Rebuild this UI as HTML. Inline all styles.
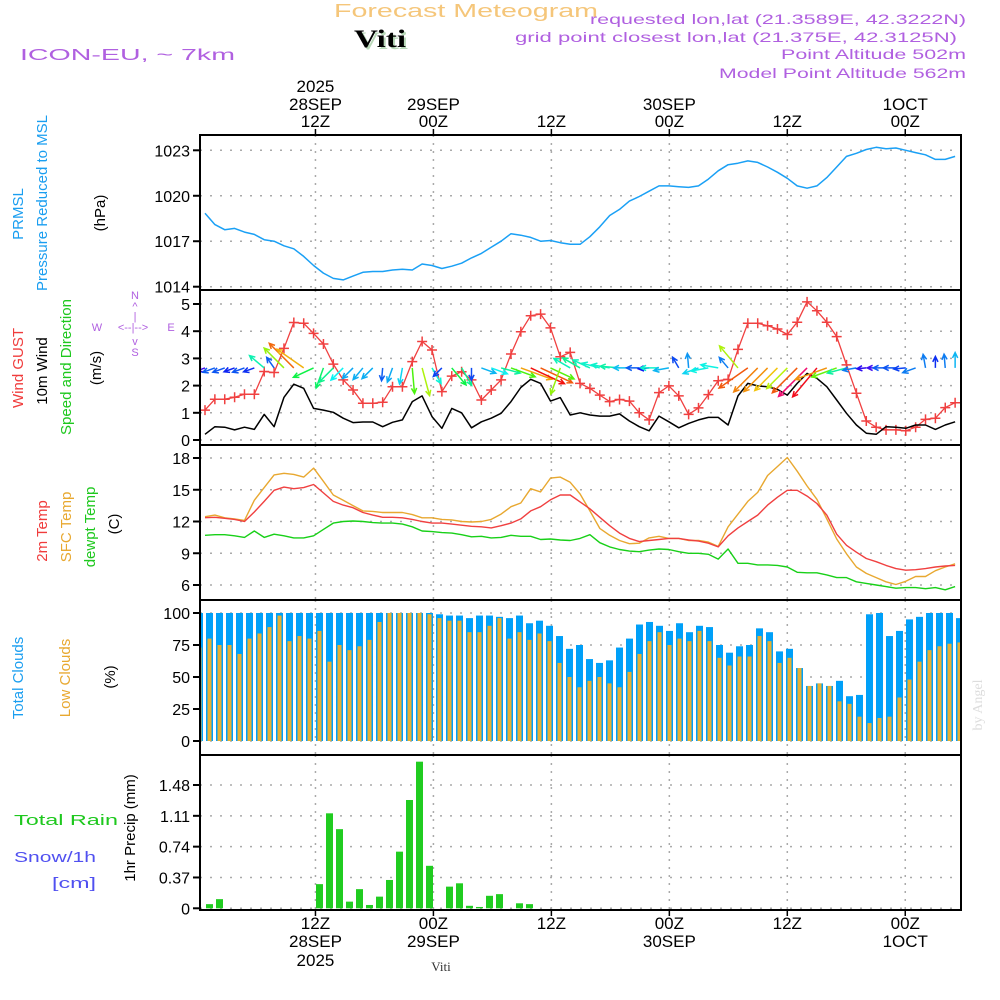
<!DOCTYPE html>
<html><head><meta charset="utf-8"><title>Meteogram Viti</title>
<style>
html,body{margin:0;padding:0;background:#fff;}
svg{display:block;font-family:"Liberation Sans",sans-serif;}
</style></head>
<body>
<svg id="chart" width="1000" height="1000" viewBox="0 0 1000 1000" xmlns="http://www.w3.org/2000/svg">
<g>
<text x="334" y="17" font-size="18" fill="#f5c67a" textLength="264" lengthAdjust="spacingAndGlyphs">Forecast Meteogram</text>
<text x="356" y="49" font-size="25" font-weight="bold" font-family="Liberation Serif, serif" fill="#b8d8b8" textLength="52" lengthAdjust="spacingAndGlyphs">Viti</text>
<text x="354" y="47" font-size="25" font-weight="bold" font-family="Liberation Serif, serif" fill="#000" textLength="52" lengthAdjust="spacingAndGlyphs">Viti</text>
<text x="20" y="60" font-size="16" fill="#b060e0" textLength="215" lengthAdjust="spacingAndGlyphs">ICON-EU, ~ 7km</text>
<text x="966" y="24" font-size="14" fill="#b060e0" text-anchor="end" textLength="376" lengthAdjust="spacingAndGlyphs">requested lon,lat (21.3589E, 42.3222N)</text>
<text x="957" y="42" font-size="14" fill="#b060e0" text-anchor="end" textLength="442" lengthAdjust="spacingAndGlyphs">grid point closest lon,lat (21.375E, 42.3125N)</text>
<text x="966" y="59" font-size="14" fill="#b060e0" text-anchor="end" textLength="185" lengthAdjust="spacingAndGlyphs">Point Altitude 502m</text>
<text x="966" y="78" font-size="14" fill="#b060e0" text-anchor="end" textLength="247" lengthAdjust="spacingAndGlyphs">Model Point Altitude 562m</text>
</g>
<g font-size="15">
<text transform="translate(23,214) rotate(-90)" text-anchor="middle" fill="#1a9ef0">PRMSL</text>
<text transform="translate(47,203) rotate(-90)" text-anchor="middle" fill="#1a9ef0">Pressure Reduced to MSL</text>
<text transform="translate(105,213) rotate(-90)" text-anchor="middle" fill="#000">(hPa)</text>
<text transform="translate(23,368) rotate(-90)" text-anchor="middle" fill="#f03c3c">Wind GUST</text>
<text transform="translate(47,371) rotate(-90)" text-anchor="middle" fill="#000">10m Wind</text>
<text transform="translate(71,367) rotate(-90)" text-anchor="middle" fill="#1ec81e">Speed and Direction</text>
<text transform="translate(101,368) rotate(-90)" text-anchor="middle" fill="#000">(m/s)</text>
<g fill="#b060e0" font-size="11">
<text x="135" y="299" text-anchor="middle">N</text>
<text x="135" y="310" text-anchor="middle">^</text>
<text x="135" y="320" text-anchor="middle">|</text>
<text x="97" y="331" text-anchor="middle">W</text>
<text x="133" y="331" text-anchor="middle">&lt;--|--&gt;</text>
<text x="171" y="331" text-anchor="middle">E</text>
<text x="135" y="345" text-anchor="middle">v</text>
<text x="135" y="356" text-anchor="middle">S</text>
</g>
<text transform="translate(47,531) rotate(-90)" text-anchor="middle" fill="#f03c3c">2m Temp</text>
<text transform="translate(71,527) rotate(-90)" text-anchor="middle" fill="#e8a830">SFC Temp</text>
<text transform="translate(95,527) rotate(-90)" text-anchor="middle" fill="#1ec81e">dewpt Temp</text>
<text transform="translate(119,524) rotate(-90)" text-anchor="middle" fill="#000">(C)</text>
<text transform="translate(23,678) rotate(-90)" text-anchor="middle" fill="#1a9ef0">Total Clouds</text>
<text transform="translate(70,678) rotate(-90)" text-anchor="middle" fill="#e8a830">Low Clouds</text>
<text transform="translate(115,677) rotate(-90)" text-anchor="middle" fill="#000">(%)</text>
<text transform="translate(135,828) rotate(-90)" text-anchor="middle" fill="#000">1hr Precip (mm)</text>
<text x="14" y="825" fill="#1ec81e" textLength="104" lengthAdjust="spacingAndGlyphs">Total   Rain</text>
<text x="14" y="862" fill="#5050f0" textLength="82" lengthAdjust="spacingAndGlyphs">Snow/1h</text>
<text x="52" y="888" fill="#5050f0" textLength="44" lengthAdjust="spacingAndGlyphs">[cm]</text>
<text transform="translate(982,705) rotate(-90)" text-anchor="middle" fill="#ddd" font-family="Liberation Serif, serif" font-size="14">by Angel</text>
</g>
<g id="plot"></g>
</svg>
<script>
// ---- data (hourly, 77 steps) ----
const timeTicks = [12, 24, 36, 48, 60, 72];
const topDay = ["28SEP", "29SEP", "", "30SEP", "", "1OCT"];
const topHour = ["12Z", "00Z", "12Z", "00Z", "12Z", "00Z"];
const pressure = [1018.84,1018.1,1017.76,1017.85,1017.6,1017.45,1017.1,1017.0,1016.7,1016.5,1016.0,1015.4,1014.9,1014.55,1014.45,1014.7,1014.95,1015.0,1015.0,1015.1,1015.15,1015.1,1015.5,1015.4,1015.2,1015.35,1015.55,1015.9,1016.2,1016.6,1017.0,1017.5,1017.4,1017.25,1017.0,1017.05,1016.9,1016.8,1016.8,1017.3,1017.95,1018.7,1019.1,1019.65,1019.95,1020.3,1020.65,1020.65,1020.6,1020.55,1020.65,1021.1,1021.65,1022.05,1022.15,1022.3,1022.2,1021.9,1021.55,1021.15,1020.65,1020.5,1020.65,1021.2,1021.9,1022.6,1022.8,1023.05,1023.2,1023.1,1023.15,1023.0,1022.85,1022.7,1022.4,1022.4,1022.6];
const pressTicks = [1014, 1017, 1020, 1023];
const gust = [1.1,1.5,1.5,1.57,1.68,1.68,2.52,2.48,3.37,4.32,4.29,3.92,3.53,2.79,2.21,1.84,1.35,1.35,1.39,1.96,1.96,2.88,3.62,3.31,1.78,2.35,2.51,2.21,1.47,1.84,2.21,3.16,3.98,4.57,4.63,4.12,3.06,3.22,2.08,1.90,1.65,1.41,1.49,1.43,1.00,0.74,1.74,1.99,1.62,0.94,1.18,1.67,2.18,2.23,3.33,4.29,4.29,4.20,4.08,3.88,4.33,5.08,4.75,4.33,3.80,2.76,1.72,0.70,0.47,0.37,0.37,0.34,0.47,0.76,0.80,1.19,1.37];
const wind = [0.21,0.49,0.47,0.37,0.47,0.39,0.94,0.49,1.57,2.05,1.90,1.16,1.10,1.02,0.80,0.64,0.66,0.66,0.49,0.65,0.74,1.41,1.62,0.86,0.43,1.16,1.00,0.45,0.67,0.80,0.98,1.41,1.93,2.23,2.08,1.43,1.56,0.92,1.00,0.92,0.88,0.88,0.96,0.70,0.49,0.34,0.88,0.67,0.45,0.61,0.74,0.83,0.83,0.55,1.62,2.08,1.99,1.96,1.86,1.65,2.08,2.45,2.27,1.96,1.47,0.98,0.55,0.25,0.21,0.49,0.47,0.43,0.55,0.55,0.39,0.55,0.67];
const windDir = [200,200,200,200,200,200,140,125,135,135,145,205,250,225,225,225,230,225,265,250,260,275,285,300,225,310,300,270,340,340,345,340,340,335,335,335,250,150,150,155,165,170,175,180,180,185,180,190,120,95,200,190,170,130,130,215,225,225,225,225,225,225,230,200,200,195,190,185,180,180,180,185,200,100,90,95,90];
const windTicks = [0, 1, 2, 3, 4, 5];
const temp2m = [12.36,12.4,12.3,12.2,12.0,12.9,13.9,14.95,15.25,15.1,15.2,15.5,14.7,13.9,13.55,13.3,12.85,12.6,12.4,12.4,12.35,12.2,12.0,11.85,11.85,11.75,11.65,11.55,11.5,11.4,11.6,11.85,12.25,13.0,13.4,14.05,14.5,14.5,13.85,13.2,12.4,11.6,10.9,10.4,10.1,10.2,10.3,10.4,10.4,10.25,10.15,9.95,9.6,10.65,11.4,12.0,12.6,13.55,14.3,14.95,14.95,14.4,13.7,12.6,10.8,9.75,9.1,8.5,8.2,7.85,7.55,7.4,7.45,7.55,7.7,7.8,7.85];
const tempSfc = [12.45,12.6,12.35,12.25,12.1,14.0,15.2,16.4,16.55,16.45,16.2,17.05,15.8,14.5,14.0,13.5,13.0,12.95,12.85,12.85,12.85,12.65,12.35,12.35,12.2,12.15,12.0,11.95,12.0,12.2,12.7,13.4,13.75,15.1,14.8,16.1,16.2,15.7,14.6,13.0,11.35,10.7,10.2,9.9,9.95,10.45,10.6,10.4,10.4,10.2,10.2,10.05,9.65,11.5,12.7,13.9,14.75,16.35,17.2,18.05,16.75,15.35,14.1,12.25,10.35,8.95,7.7,7.1,6.7,6.3,6.05,6.35,6.8,6.8,7.35,7.7,8.0];
const dewpt = [10.7,10.75,10.75,10.65,10.5,11.1,10.5,10.8,10.65,10.45,10.45,10.65,11.25,11.85,12.0,12.05,12.0,11.9,11.85,11.85,11.75,11.5,11.1,11.05,10.95,10.9,10.75,10.55,10.6,10.45,10.5,10.7,10.6,10.6,10.3,10.35,10.25,10.2,10.4,10.75,10.0,9.6,9.35,9.2,9.15,9.3,9.4,9.35,9.15,9.0,9.0,8.9,8.45,9.4,8.05,8.05,7.9,7.9,7.85,7.7,7.2,7.15,7.15,6.95,6.7,6.7,6.3,6.15,6.0,5.85,5.7,5.75,5.75,5.65,5.75,5.55,5.85];
const tempTicks = [6, 9, 12, 15, 18];
const cloudTotal = [100,100,100,100,100,100,100,100,100,100,100,100,100,100,100,100,100,100,100,100,100,100,100,100,99,98,98,96,98,98,97,96,98,92,94,90,82,72,75,64,61,63,73,80,91,93,90,86,92,85,90,89,75,69,74,75,88,85,70,72,57,43,45,43,47,35,36,99,100,82,86,95,97,100,100,100,96];
const cloudLow = [73,80,75,75,68,80,84,89,98,78,82,80,86,62,75,71,74,79,93,100,100,100,100,99,96,94,94,85,85,90,96,80,85,79,84,78,61,50,42,47,50,45,42,54,68,78,85,75,80,78,86,78,65,59,66,66,82,78,61,65,57,43,45,43,31,29,19,14,18,19,34,48,62,71,74,76,77];
const cloudTicks = [0, 25, 50, 75, 100];
const precip = [0,0.05,0.11,0,0,0,0,0,0,0,0,0,0.29,1.14,0.95,0.08,0.23,0.04,0.14,0.34,0.68,1.30,1.76,0.51,0,0.26,0.30,0.03,0.016,0.15,0.17,0,0.06,0.05,0,0,0,0,0,0,0,0,0,0,0,0,0,0,0,0,0,0,0,0,0,0,0,0,0,0,0,0,0,0,0,0,0,0,0,0,0,0,0,0,0,0,0];
const precipTicks = [0, 0.37, 0.74, 1.11, 1.48];

const NS = "http://www.w3.org/2000/svg";
const plot = document.getElementById("plot");
function mk(tag, attrs, parent) {
  const e = document.createElementNS(NS, tag);
  for (const k in attrs) e.setAttribute(k, attrs[k]);
  (parent || plot).appendChild(e);
  return e;
}
const X0 = 200, X1 = 961;
function xT(h) { return 205 + 9.87 * h; }
function xTick(h) { return 197.5 + 9.83 * h; }
function xBar(j) { return 196 + 10 * j; }
function lin(d0, d1, r0, r1) { return v => r0 + (v - d0) * (r1 - r0) / (d1 - d0); }

const panels = [
  { name: "pressure", top: 135, bot: 290, y: lin(1014, 1023, 286.7, 150.3), ticks: pressTicks, fmt: v => String(v) },
  { name: "wind", top: 290, bot: 445, y: lin(0, 5, 440, 304), ticks: windTicks, fmt: v => String(v) },
  { name: "temperature", top: 445, bot: 600, y: lin(6, 18, 585, 458), ticks: tempTicks, fmt: v => String(v) },
  { name: "clouds", top: 600, bot: 755, y: lin(0, 100, 741, 613), ticks: cloudTicks, fmt: v => String(v) },
  { name: "precip", top: 755, bot: 910, y: lin(0, 1.48, 908.3, 785), ticks: precipTicks, fmt: v => v === 0 ? "0" : v.toFixed(2) }
];

const defs = mk("defs", {});


panels.forEach((p, k) => {
  const cp = mk("clipPath", { id: "clip" + k }, defs);
  mk("rect", { x: X0, y: p.top, width: X1 - X0, height: p.bot - p.top }, cp);
});

panels.forEach((p, k) => {
  const g = mk("g", {});
  
  
  p.g = g;
  p.ticks.forEach(t => {
    const yy = p.y(t);
    const gl = mk("line", { x1: X0, x2: X1, y1: yy, y2: yy, stroke: "#aaa", "stroke-width": 1.5, "stroke-dasharray": "2 8" }, g);
    
    
    const tk = mk("line", { x1: X0 - 7, x2: X0, y1: yy, y2: yy, stroke: "#000", "stroke-width": 2 }, g);
    
    
    const tl = mk("text", { x: X0 - 10, y: yy + 6, "text-anchor": "end", "font-size": 16, fill: "#000" }, g);
    
    
    tl.textContent = p.fmt(t);
  });
  timeTicks.forEach(h => {
    const xx = xTick(h);
    const vl = mk("line", { x1: xx, x2: xx, y1: p.top, y2: p.bot, stroke: "#aaa", "stroke-width": 1.5, "stroke-dasharray": "2 6" }, g);
    
    
  });
  p.data = mk("g", { "clip-path": "url(#clip" + k + ")" }, g);
  
  
});

function polyline(p, arr, color, name, w) {
  const pts = arr.map((v, i) => xT(i).toFixed(1) + "," + p.y(v).toFixed(1)).join(" ");
  const pl = mk("polyline", { points: pts, fill: "none", stroke: color, "stroke-width": w || 1.5, "stroke-linejoin": "round" }, p.data);
  
  
  return pl;
}

polyline(panels[0], pressure, "#1aa0f5", "pressure-line", 1.5);

const pw = panels[1];
polyline(pw, gust, "#f04040", "gust-line", 1.3);
gust.forEach((v, i) => {
  const xx = xT(i), yy = pw.y(v);
  const m = mk("path", { d: `M${xx - 5},${yy}H${xx + 5}M${xx},${yy - 5}V${yy + 5}`, stroke: "#f04040", "stroke-width": 1.5 }, pw.data);
  
  
});
polyline(pw, wind, "#000", "wind-speed-line", 1.5);
windDir.forEach((d, i) => {
  const s = wind[i];
  const len = 6 + 14 * s;
  const a = d * Math.PI / 180;
  const x0 = xT(i), y0 = pw.y(2.65);
  const x1 = x0 + len * Math.cos(a), y1 = y0 - len * Math.sin(a);
  let hue = 280 - 125 * s; if (hue < 0) hue += 360;
  const col = `hsl(${hue.toFixed(0)},90%,50%)`;
  const h1 = a + Math.PI - 0.45, h2 = a + Math.PI + 0.45;
  const hl = 6;
  const ar = mk("path", { d: `M${x0},${y0}L${x1},${y1}M${x1 + hl * Math.cos(h1)},${y1 - hl * Math.sin(h1)}L${x1},${y1}L${x1 + hl * Math.cos(h2)},${y1 - hl * Math.sin(h2)}`, stroke: col, "stroke-width": 1.5, fill: "none" }, pw.data);
  
  
});

const pt = panels[2];
polyline(pt, tempSfc, "#e8a830", "sfc-temp-line", 1.4);
polyline(pt, temp2m, "#f04040", "temp-2m-line", 1.4);
polyline(pt, dewpt, "#18d018", "dewpt-line", 1.4);

const pc = panels[3];
cloudTotal.forEach((v, j) => {
  const xx = xBar(j), y0 = pc.y(0), yt = pc.y(v);
  const b = mk("rect", { x: xx, y: yt, width: 7, height: y0 - yt, fill: "#00a0f8" }, pc.data);
  
  
  const yl = pc.y(cloudLow[j]);
  const o = mk("rect", { x: xx + 1.5, y: yl, width: 4, height: y0 - yl, fill: "#e8b030" }, pc.data);
  
  
});

const pp = panels[4];
precip.forEach((v, j) => {
  if (v <= 0) return;
  const xx = xBar(j), y0 = pp.y(0), yt = pp.y(v);
  const b = mk("rect", { x: xx, y: yt, width: 7, height: y0 - yt, fill: "#20cc20" }, pp.data);
  
  
});

panels.forEach(p => {
  const fr = mk("rect", { x: X0, y: p.top, width: X1 - X0, height: p.bot - p.top, fill: "none", stroke: "#000", "stroke-width": 2 }, p.g);
  
  
});

const axT = mk("g", {});


timeTicks.forEach((h, k) => {
  const xx = xTick(h);
  const tk = mk("line", { x1: xx, x2: xx, y1: 129, y2: 135, stroke: "#000", "stroke-width": 1.5 }, axT);
  
  
  const t1 = mk("text", { x: xx, y: 127, "text-anchor": "middle", "font-size": 17 }, axT);
  
  
  t1.textContent = topHour[k];
  if (topDay[k]) {
    const t2 = mk("text", { x: xx, y: 110, "text-anchor": "middle", "font-size": 17 }, axT);
    
    
    t2.textContent = topDay[k];
  }
  if (k === 0) {
    const t3 = mk("text", { x: xx, y: 92, "text-anchor": "middle", "font-size": 17 }, axT);
    
    
    t3.textContent = "2025";
  }
});
const axB = mk("g", {});


timeTicks.forEach((h, k) => {
  const xx = xTick(h);
  const tk = mk("line", { x1: xx, x2: xx, y1: 910, y2: 916, stroke: "#000", "stroke-width": 1.5 }, axB);
  
  
  const t1 = mk("text", { x: xx, y: 929, "text-anchor": "middle", "font-size": 17 }, axB);
  
  
  t1.textContent = topHour[k];
  if (topDay[k]) {
    const t2 = mk("text", { x: xx, y: 947, "text-anchor": "middle", "font-size": 17 }, axB);
    
    
    t2.textContent = topDay[k];
  }
  if (k === 0) {
    const t3 = mk("text", { x: xx, y: 966, "text-anchor": "middle", "font-size": 17 }, axB);
    
    
    t3.textContent = "2025";
  }
});
const vt = mk("text", { x: 441, y: 971, "text-anchor": "middle", "font-size": 13, "font-family": "Liberation Serif, serif", fill: "#333" }, axB);


vt.textContent = "Viti";
</script>
</body></html>
